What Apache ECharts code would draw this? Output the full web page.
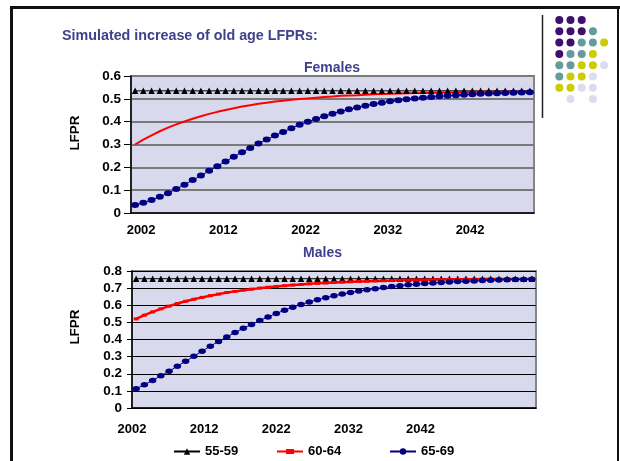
<!DOCTYPE html>
<html>
<head>
<meta charset="utf-8">
<script src="https://cdn.jsdelivr.net/npm/echarts@6/dist/echarts.min.js"></script>
<style>
  html, body { margin: 0; padding: 0; background: #ffffff; }
  #chart { width: 620px; height: 461px; }
</style>
</head>
<body>
<div id="chart"></div>
<script>
// Years on the horizontal axis (one point per year)
const years = [
  '2002','2003','2004','2005','2006','2007','2008','2009','2010','2011',
  '2012','2013','2014','2015','2016','2017','2018','2019','2020','2021',
  '2022','2023','2024','2025','2026','2027','2028','2029','2030','2031',
  '2032','2033','2034','2035','2036','2037','2038','2039','2040','2041',
  '2042','2043','2044','2045','2046','2047','2048','2049','2050'
];
const yearTickLabels = ['2002', '2012', '2022', '2032', '2042'];
const seriesNames = ['55-59', '60-64', '65-69'];

// Females
const female5559 = [
  0.535,0.535,0.535,0.535,0.535,0.535,0.535,0.535,0.535,0.535,
  0.535,0.535,0.535,0.535,0.535,0.535,0.535,0.535,0.535,0.535,
  0.535,0.535,0.535,0.535,0.535,0.535,0.535,0.535,0.535,0.535,
  0.535,0.535,0.535,0.535,0.535,0.535,0.535,0.535,0.535,0.535,
  0.535,0.535,0.535,0.535,0.535,0.535,0.535,0.535,0.535
];
const female6064 = [
  0.300,0.321,0.340,0.358,0.374,0.388,0.401,0.413,0.424,0.434,
  0.443,0.451,0.459,0.466,0.472,0.478,0.483,0.488,0.492,0.496,
  0.499,0.502,0.505,0.508,0.510,0.513,0.515,0.516,0.518,0.520,
  0.521,0.522,0.523,0.524,0.525,0.526,0.527,0.528,0.528,0.529,
  0.530,0.530,0.531,0.531,0.531,0.532,0.532,0.532,0.532
];
const female6569 = [
  0.035,0.045,0.057,0.071,0.087,0.105,0.124,0.144,0.164,0.185,
  0.205,0.226,0.246,0.266,0.285,0.304,0.322,0.339,0.355,0.371,
  0.386,0.400,0.412,0.424,0.435,0.445,0.454,0.462,0.470,0.477,
  0.483,0.489,0.494,0.498,0.502,0.505,0.508,0.511,0.514,0.516,
  0.518,0.520,0.522,0.523,0.525,0.526,0.527,0.528,0.529
];

// Males
const male5559 = [
  0.755,0.755,0.755,0.755,0.755,0.755,0.755,0.755,0.755,0.755,
  0.755,0.755,0.755,0.755,0.755,0.755,0.755,0.755,0.755,0.755,
  0.755,0.755,0.755,0.755,0.755,0.755,0.755,0.755,0.755,0.755,
  0.755,0.755,0.755,0.755,0.755,0.755,0.755,0.755,0.755,0.755,
  0.755,0.755,0.755,0.755,0.755,0.755,0.755,0.755,0.755
];
const male6064 = [
  0.520,0.542,0.561,0.579,0.595,0.610,0.623,0.635,0.646,0.656,
  0.665,0.674,0.681,0.688,0.694,0.700,0.705,0.710,0.714,0.718,
  0.721,0.725,0.728,0.730,0.733,0.735,0.737,0.739,0.740,0.742,
  0.743,0.744,0.746,0.747,0.748,0.748,0.749,0.750,0.751,0.751,
  0.752,0.752,0.753,0.753,0.753,0.754,0.754,0.754,0.754
];
const male6569 = [
  0.112,0.136,0.161,0.188,0.215,0.244,0.273,0.302,0.332,0.361,
  0.389,0.415,0.441,0.465,0.488,0.511,0.532,0.552,0.571,0.589,
  0.605,0.619,0.632,0.644,0.655,0.665,0.674,0.683,0.690,0.697,
  0.703,0.709,0.714,0.719,0.723,0.727,0.730,0.733,0.736,0.738,
  0.740,0.742,0.744,0.746,0.748,0.749,0.750,0.751,0.752
];

const FONT = '"Liberation Sans", Arial, Helvetica, sans-serif';
const TITLE_COLOR = '#40408c';
const PLOT_BG = '#d9d9ed';

// Decorative dot block in the top-right corner
const dotColors = { P: '#3e0f6e', T: '#669b9b', Y: '#cccc00', L: '#dcdcee' };
const dotRows = ['PPP', 'PPPT', 'PPTTY', 'PTTY', 'TTYYL', 'TYYL', 'YYLL', '.L.L'];
const dotGraphics = [];
dotRows.forEach(function (row, r) {
  row.split('').forEach(function (c, k) {
    if (c === '.') return;
    dotGraphics.push({
      type: 'circle',
      shape: { cx: 559.3 + k * 11.2, cy: 20 + r * 11.3, r: 4 },
      style: { fill: dotColors[c] },
      silent: true
    });
  });
});

const labelStyle = { fontFamily: FONT, fontWeight: 'bold', fontSize: 13, color: '#000' };

const chart = echarts.init(document.getElementById('chart'), null, { renderer: 'canvas' });

function lineSeries(name, xi, data, symbol, size, color, width) {
  return {
    name: name, type: 'line', xAxisIndex: xi, yAxisIndex: xi, data: data,
    symbol: symbol, symbolSize: size, showSymbol: symbol !== 'none', showAllSymbol: true,
    itemStyle: { color: color }, lineStyle: { color: color, width: width }
  };
}

chart.setOption({
  animation: false,
  backgroundColor: '#ffffff',
  graphic: [
    // slide frame
    { type: 'rect', shape: { x: 10, y: 6, width: 610, height: 3 }, style: { fill: '#111' }, silent: true },
    { type: 'rect', shape: { x: 10, y: 6, width: 3, height: 455 }, style: { fill: '#111' }, silent: true },
    { type: 'rect', shape: { x: 617, y: 6, width: 2, height: 455 }, style: { fill: '#111' }, silent: true },
    { type: 'line', shape: { x1: 542.5, y1: 15, x2: 542.5, y2: 118 }, style: { stroke: '#222', lineWidth: 1.5 }, silent: true },
    // headings
    { type: 'text', x: 62, y: 36, style: { text: 'Simulated increase of old age LFPRs:', font: 'bold 14.3px ' + FONT, fill: TITLE_COLOR, textAlign: 'left', textVerticalAlign: 'middle' } },
    { type: 'text', x: 332, y: 68, style: { text: 'Females', font: 'bold 14px ' + FONT, fill: TITLE_COLOR, textAlign: 'center', textVerticalAlign: 'middle' } },
    { type: 'text', x: 322.5, y: 253, style: { text: 'Males', font: 'bold 14px ' + FONT, fill: TITLE_COLOR, textAlign: 'center', textVerticalAlign: 'middle' } },
    // vertical axis titles
    { type: 'text', x: 75, y: 133, rotation: Math.PI / 2, style: { text: 'LFPR', font: 'bold 13.5px ' + FONT, fill: '#000', textAlign: 'center', textVerticalAlign: 'middle' } },
    { type: 'text', x: 75, y: 327, rotation: Math.PI / 2, style: { text: 'LFPR', font: 'bold 13.5px ' + FONT, fill: '#000', textAlign: 'center', textVerticalAlign: 'middle' } }
  ].concat(dotGraphics),
  legend: [
    { data: [seriesNames[0]], left: 173, top: 445, itemWidth: 26, itemHeight: 8, textStyle: labelStyle, padding: 0 },
    { data: [{ name: seriesNames[1], icon: 'path://M0,3L26,3L26,5L0,5Z M9,1.5L17,1.5L17,6.5L9,6.5Z' }], left: 277, top: 445, itemWidth: 26, itemHeight: 8, textStyle: labelStyle, padding: 0 },
    { data: [seriesNames[2]], left: 389, top: 445, itemWidth: 26, itemHeight: 8, textStyle: labelStyle, padding: 0 }
  ],
  grid: [
    { left: 131, top: 76, width: 403, height: 137, show: true, backgroundColor: PLOT_BG, borderColor: '#858585', borderWidth: 2 },
    { left: 132, top: 271, width: 404, height: 137, show: true, backgroundColor: PLOT_BG, borderColor: '#858585', borderWidth: 2 }
  ],
  xAxis: [
    {
      type: 'category', gridIndex: 0, data: years, boundaryGap: true,
      axisLine: { lineStyle: { color: '#000', width: 1.5 } },
      axisTick: { interval: 9, length: 5, lineStyle: { color: '#000', width: 1 } },
      axisLabel: Object.assign({}, labelStyle, {
        interval: 9, margin: 11, padding: [0, 0, 0, 12],
        formatter: function (v) { return yearTickLabels.indexOf(v) >= 0 ? v : ''; }
      })
    },
    {
      type: 'category', gridIndex: 1, data: years, boundaryGap: true,
      axisLine: { lineStyle: { color: '#000', width: 1.5 } },
      axisTick: { interval: 9, length: 5, lineStyle: { color: '#000', width: 1 } },
      axisLabel: { show: false }
    },
    {
      // label row under the lower panel
      type: 'value', gridIndex: 1, min: 2002, max: 2058, interval: 10, position: 'bottom',
      axisLine: { show: false }, axisTick: { show: false }, splitLine: { show: false },
      axisLabel: Object.assign({}, labelStyle, {
        margin: 15,
        formatter: function (v) { const s = String(Math.round(v)); return yearTickLabels.indexOf(s) >= 0 ? s : ''; }
      })
    }
  ],
  yAxis: [
    {
      type: 'value', gridIndex: 0, min: 0, max: 0.6, interval: 0.1,
      axisLine: { show: true, lineStyle: { color: '#000', width: 1.5 } },
      axisTick: { show: true, length: 7, lineStyle: { color: '#000' } },
      splitLine: { show: true, lineStyle: { color: '#7a7a7a', width: 2 } },
      axisLabel: Object.assign({}, labelStyle, { fontSize: 13.5, margin: 10 })
    },
    {
      type: 'value', gridIndex: 1, min: 0, max: 0.8, interval: 0.1,
      axisLine: { show: true, lineStyle: { color: '#000', width: 1.5 } },
      axisTick: { show: true, length: 5, lineStyle: { color: '#000' } },
      splitLine: { show: true, lineStyle: { color: '#000', width: 1 } },
      axisLabel: Object.assign({}, labelStyle, { fontSize: 13.5, margin: 10 })
    }
  ],
  series: [
    // Females
    lineSeries(seriesNames[0], 0, female5559, 'triangle', 6.5, '#000000', 1),
    lineSeries(seriesNames[1], 0, female6064, 'none', 0, '#ff0000', 2),
    lineSeries(seriesNames[2], 0, female6569, 'circle', [8, 6], '#000080', 1),
    // Males
    lineSeries(seriesNames[0], 1, male5559, 'triangle', 6.5, '#000000', 1),
    lineSeries(seriesNames[1], 1, male6064, 'rect', [5, 3], '#ff0000', 2.5),
    lineSeries(seriesNames[2], 1, male6569, 'circle', [7.5, 5.5], '#000080', 1)
  ]
});
</script>
</body>
</html>
